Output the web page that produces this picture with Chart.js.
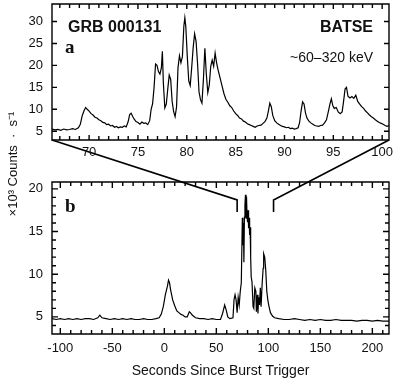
<!DOCTYPE html>
<html>
<head>
<meta charset="utf-8">
<script src="https://cdn.jsdelivr.net/npm/chart.js@4.4.0/dist/chart.umd.min.js"></script>
<style>
  html, body { margin: 0; padding: 0; background: #fff; }
  #wrap { position: relative; width: 402px; height: 382px; }
  #wrap canvas { position: absolute; left: 0; top: 0; }
</style>
</head>
<body>
<div id="wrap">
  <canvas id="panelB" width="402" height="382"></canvas>
  <canvas id="panelA" width="402" height="382"></canvas>
</div>
<script>
// --- panel a: zoom on the main burst (seconds, x10^3 counts/s) ---
const topTimes = [
  66.2, 66.5, 66.8, 67.1, 67.4, 67.7, 68.0, 68.3, 68.6, 68.9,
  69.1, 69.3, 69.5, 69.65, 69.8, 70.0, 70.2, 70.4, 70.6, 70.8,
  71.0, 71.2, 71.4, 71.6, 71.8, 72.0, 72.2, 72.4, 72.6, 72.8,
  73.0, 73.2, 73.4, 73.6, 73.8, 74.0, 74.15, 74.3, 74.45, 74.6,
  74.8, 75.0, 75.2, 75.4, 75.6, 75.8, 76.0, 76.2, 76.35, 76.5,
  76.65, 76.8, 76.95, 77.1, 77.25, 77.4, 77.5, 77.6, 77.75, 77.9,
  78.05, 78.2, 78.35, 78.5, 78.65, 78.8, 78.95, 79.1, 79.25, 79.4,
  79.55, 79.7, 79.8, 79.9, 80.05, 80.2, 80.35, 80.5, 80.65, 80.8,
  80.95, 81.1, 81.25, 81.4, 81.55, 81.7, 81.85, 82.0, 82.15, 82.3,
  82.45, 82.6, 82.75, 82.9, 83.05, 83.2, 83.4, 83.6, 83.8, 84.0,
  84.2, 84.4, 84.6, 84.8, 85.0, 85.2, 85.4, 85.6, 85.8, 86.0,
  86.2, 86.4, 86.6, 86.8, 87.0, 87.2, 87.4, 87.6, 87.8, 88.0,
  88.2, 88.35, 88.5, 88.65, 88.8, 89.0, 89.2, 89.4, 89.6, 89.8,
  90.0, 90.2, 90.4, 90.6, 90.8, 91.0, 91.2, 91.4, 91.55, 91.7,
  91.85, 92.0, 92.15, 92.3, 92.5, 92.7, 92.9, 93.1, 93.3, 93.5,
  93.7, 93.9, 94.1, 94.3, 94.5, 94.65, 94.8, 94.95, 95.1, 95.3,
  95.5, 95.7, 95.9, 96.05, 96.2, 96.35, 96.5, 96.7, 96.9, 97.1,
  97.3, 97.5, 97.7, 97.9, 98.1, 98.3, 98.5, 98.7, 98.9, 99.1,
  99.3, 99.5, 99.7, 99.9, 100.1, 100.3, 100.5, 100.7
];
const topCounts = [
  5.5, 5.3, 5.4, 5.2, 5.5, 5.3, 5.4, 5.6, 5.4, 5.8,
  6.6, 8.6, 9.8, 10.4, 10.0, 9.6, 9.0, 8.7, 8.2, 8.0,
  7.6, 7.4, 7.0, 6.9, 6.5, 6.6, 6.2, 6.3, 5.9, 6.1,
  5.8, 6.0, 5.9, 6.2, 6.0, 7.2, 8.8, 9.1, 8.4, 7.8,
  7.2, 7.0, 6.6, 7.1, 6.8, 6.9, 6.5, 7.4, 10.0, 11.3,
  15.0, 20.3, 20.0, 18.6, 18.0, 19.5, 23.2, 16.0, 10.3, 11.2,
  14.6, 17.8, 16.8, 11.8, 9.5, 8.3, 10.5, 19.5, 22.2, 20.6,
  22.0, 29.0, 30.9, 28.8, 22.0, 16.5, 15.4, 19.5, 24.0, 27.2,
  25.5, 20.5, 14.0, 12.2, 11.4, 16.8, 23.9, 18.0, 13.8, 15.5,
  19.8, 21.2, 19.8, 22.8, 20.6, 19.0, 17.2, 15.4, 13.6, 12.3,
  11.6, 10.8, 10.4, 9.6, 9.0, 8.6, 8.0, 7.8, 7.3, 7.1,
  6.7, 6.5, 6.3, 6.1, 5.9, 6.2, 6.3, 6.4, 6.8, 7.2,
  8.0, 9.6, 11.4, 10.6, 8.6, 7.4, 6.9, 6.6, 6.3, 6.1,
  6.0, 5.8, 5.9, 5.6, 5.7, 5.5, 5.6, 5.8, 7.0, 9.6,
  11.7, 11.2, 9.2, 8.0, 7.3, 6.9, 6.6, 6.3, 6.2, 6.1,
  6.3, 6.4, 6.9, 7.6, 9.6, 11.2, 12.4, 10.8, 10.2, 10.4,
  9.4, 9.0, 9.4, 11.8, 14.6, 15.0, 13.0, 12.6, 12.9, 12.5,
  13.2, 11.8, 11.2, 10.6, 10.2, 9.6, 9.2, 8.7, 8.3, 8.0,
  7.6, 7.3, 7.0, 6.8, 6.6, 6.3, 6.1, 6.3
];

// --- panel b: whole light curve ---
const bottomTimes = [
  -108, -104, -100, -96, -92, -88, -84, -80, -76, -72,
  -68, -64, -62, -60, -56, -52, -48, -44, -40, -36,
  -32, -28, -24, -20, -16, -12, -8, -5, -3, -1,
  1, 3, 4, 5, 6, 7, 8, 10, 12, 14,
  16, 18, 20, 22, 24, 25, 27, 30, 34, 38,
  42, 46, 50, 54, 56, 58, 59.5, 61, 63, 66,
  67, 68, 69, 70, 71, 72, 73, 74, 75, 75.5,
  76, 76.5, 77, 77.5, 78, 78.5, 79, 79.5, 80, 80.5,
  81, 81.5, 82, 82.5, 83, 83.5, 84.3, 85.3, 86, 87,
  88, 88.5, 89.4, 90, 90.7, 91.5, 92.3, 93, 94, 95,
  95.5, 96.5, 97.5, 98.5, 99.5, 100.5, 102, 104, 106, 110,
  115, 120, 125, 130, 135, 140, 145, 150, 155, 160,
  165, 170, 175, 180, 185, 190, 195, 200, 205, 210, 216
];
const bottomCounts = [
  4.8, 4.7, 4.8, 4.7, 4.8, 4.7, 4.8, 4.7, 4.8, 4.8,
  4.7, 4.9, 5.2, 4.9, 4.8, 4.7, 4.8, 4.7, 4.8, 4.7,
  4.8, 4.7, 4.7, 4.8, 4.7, 4.7, 4.8, 4.9, 5.3, 6.2,
  7.6, 8.6, 9.3, 9.0, 8.2, 7.6, 7.0, 6.3, 5.7, 5.5,
  5.3, 5.2, 5.0, 5.0, 5.6, 5.5, 5.2, 4.9, 4.8, 4.8,
  4.7, 4.8, 4.7, 4.7, 5.4, 6.4, 5.8, 5.0, 4.8, 4.9,
  7.0, 7.6, 7.0, 5.5, 7.3, 6.4, 8.0, 9.0, 16.6, 13.4,
  16.0, 11.4, 16.7, 18.1, 19.3, 16.5, 19.1, 17.0, 16.1, 17.5,
  15.4, 16.6, 14.6, 15.5, 12.0, 9.7, 9.1, 6.2, 6.0, 8.4,
  8.0, 5.6, 7.6, 5.4, 7.3, 6.4, 8.4, 6.2, 8.8, 10.7,
  12.4, 12.0, 10.5, 8.0, 7.0, 6.3, 5.5, 5.1, 4.9, 4.8,
  4.7, 4.7, 4.8, 4.7, 4.6, 4.7, 4.6, 4.7, 4.6, 4.6,
  4.7, 4.6, 4.6, 4.6, 4.5, 4.6, 4.6, 4.5, 4.6, 4.5, 4.5
];

// axis ranges
const topRangeX = [66.2, 100.7];
const topRangeY = [3, 34];
const bottomRangeX = [-108, 216];
const bottomRangeY = [3, 20.8];

// where the zoom window of panel a is marked in panel b
const zoomEdges = [70, 105];
const zoomMarkLevels = [18.7, 17.3];

const sansFamily = '"Liberation Sans", Arial, Helvetica, sans-serif';
const tickFont = { family: sansFamily, size: 13 };
const isMultiple = (v, m) => Math.abs(v / m - Math.round(v / m)) < 1e-6;
const toPoints = (xs, ys) => xs.map((x, i) => ({ x: x, y: ys[i] }));

// no extra padding from labels, the frame is placed by layout.padding
function noPadding(s) {
  s.paddingTop = 0; s.paddingBottom = 0; s.paddingLeft = 0; s.paddingRight = 0;
}

function panelScales(o) {
  const grid = { display: false, drawTicks: false };
  const border = { display: false };
  return {
    x: {
      type: 'linear', position: 'bottom', min: o.x[0], max: o.x[1],
      grid: grid, border: border,
      ticks: {
        stepSize: o.xStep, includeBounds: false, autoSkip: false, maxRotation: 0,
        padding: o.xPad, color: '#111', font: tickFont,
        callback: v => isMultiple(v, o.xLabel) ? String(v) : ''
      },
      title: o.xTitle || { display: false },
      afterFit: s => { s.height = o.xHeight; noPadding(s); }
    },
    y: {
      type: 'linear', position: 'left', min: o.y[0], max: o.y[1],
      grid: grid, border: border,
      ticks: {
        stepSize: o.yStep, includeBounds: false, autoSkip: false,
        padding: 9, color: '#111', font: tickFont,
        callback: v => isMultiple(v, 5) ? String(v) : ''
      },
      afterFit: s => { s.width = 52; noPadding(s); }
    }
  };
}

// closed frame with inward tick marks on all four sides, at the x / y scale ticks
function makeFrame(id, xMajor, majorLen, minorLen) {
  return {
    id: id,
    afterDatasetsDraw(chart) {
      const ctx = chart.ctx, area = chart.chartArea;
      const xs = chart.scales.x, ys = chart.scales.y;
      const top = area.top, bottom = area.bottom, left = area.left, right = area.right;
      ctx.save();
      ctx.strokeStyle = '#000000';
      ctx.lineWidth = 1.4;
      ctx.beginPath();
      ctx.rect(left, top, right - left, bottom - top);
      xs.ticks.forEach(t => {
        const len = isMultiple(t.value, xMajor) ? majorLen : minorLen;
        const px = xs.getPixelForValue(t.value);
        ctx.moveTo(px, bottom); ctx.lineTo(px, bottom - len);
        ctx.moveTo(px, top); ctx.lineTo(px, top + len);
      });
      ys.ticks.forEach(t => {
        const len = isMultiple(t.value, 5) ? majorLen : minorLen;
        const py = ys.getPixelForValue(t.value);
        ctx.moveTo(left, py); ctx.lineTo(left + len, py);
        ctx.moveTo(right, py); ctx.lineTo(right - len, py);
      });
      ctx.stroke();
      ctx.restore();
    }
  };
}

function lineDataset(xs, ys) {
  return {
    data: toPoints(xs, ys),
    borderColor: '#000',
    borderWidth: 1.2,
    pointRadius: 0,
    tension: 0,
    fill: false
  };
}

const panelALabels = {
  id: 'panelALabels',
  afterDraw(chart) {
    const ctx = chart.ctx, area = chart.chartArea;
    ctx.save();
    ctx.fillStyle = '#111';
    ctx.textBaseline = 'alphabetic';
    ctx.font = 'bold 16px ' + sansFamily;
    ctx.textAlign = 'left';
    ctx.fillText('GRB 000131', area.left + 16, area.top + 28);
    ctx.textAlign = 'right';
    ctx.fillText('BATSE', area.right - 16, area.top + 28);
    ctx.font = '14px ' + sansFamily;
    ctx.fillText('~60–320 keV', area.right - 16, area.top + 58);
    ctx.textAlign = 'left';
    ctx.font = 'bold 19px "Liberation Serif", "Times New Roman", serif';
    ctx.fillText('a', area.left + 13, area.top + 49);
    ctx.restore();
  }
};

const chartA = new Chart(document.getElementById('panelA'), {
  type: 'line',
  data: { datasets: [lineDataset(topTimes, topCounts)] },
  options: {
    responsive: false,
    animation: false,
    events: [],
    layout: { padding: { left: 0, right: 13, top: 4, bottom: 220 } },
    scales: panelScales({ x: topRangeX, y: topRangeY, xStep: 1, xLabel: 5, yStep: 5, xPad: 5, xHeight: 22 }),
    plugins: { legend: { display: false }, tooltip: { enabled: false } }
  },
  plugins: [makeFrame('frameA', 5, 5, 4), panelALabels]
});

const panelBLabels = {
  id: 'panelBLabels',
  afterDraw(chart) {
    const ctx = chart.ctx, area = chart.chartArea;
    const xs = chart.scales.x, ys = chart.scales.y;
    const a = chartA.chartArea;
    ctx.save();
    // connectors from panel a's lower corners to the marked window
    ctx.strokeStyle = '#000';
    ctx.lineWidth = 1.6;
    [[a.left, zoomEdges[0]], [a.right, zoomEdges[1]]].forEach(([fromX, t]) => {
      const px = xs.getPixelForValue(t);
      ctx.beginPath();
      ctx.moveTo(fromX, a.bottom);
      ctx.lineTo(px, ys.getPixelForValue(zoomMarkLevels[0]));
      ctx.lineTo(px, ys.getPixelForValue(zoomMarkLevels[1]));
      ctx.stroke();
    });
    ctx.fillStyle = '#111';
    ctx.textBaseline = 'alphabetic';
    ctx.textAlign = 'left';
    ctx.font = 'bold 19px "Liberation Serif", "Times New Roman", serif';
    ctx.fillText('b', area.left + 13, area.top + 30);
    // shared y title
    ctx.translate(17, 164);
    ctx.rotate(-Math.PI / 2);
    ctx.textAlign = 'center';
    ctx.font = '13px ' + sansFamily;
    ctx.fillText('×10³ Counts  ·  s⁻¹', 0, 0);
    ctx.restore();
  }
};

new Chart(document.getElementById('panelB'), {
  type: 'line',
  data: { datasets: [lineDataset(bottomTimes, bottomCounts)] },
  options: {
    responsive: false,
    animation: false,
    events: [],
    layout: { padding: { left: 0, right: 13, top: 182, bottom: 0 } },
    scales: panelScales({
      x: bottomRangeX, y: bottomRangeY, xStep: 10, xLabel: 50, yStep: 1, xPad: 7, xHeight: 48,
      xTitle: {
        display: true, text: 'Seconds Since Burst Trigger', color: '#111',
        font: { family: sansFamily, size: 14 }, padding: { top: 0, bottom: 2 }
      }
    }),
    plugins: { legend: { display: false }, tooltip: { enabled: false } }
  },
  plugins: [makeFrame('frameB', 50, 6, 4), panelBLabels]
});
</script>
</body>
</html>
